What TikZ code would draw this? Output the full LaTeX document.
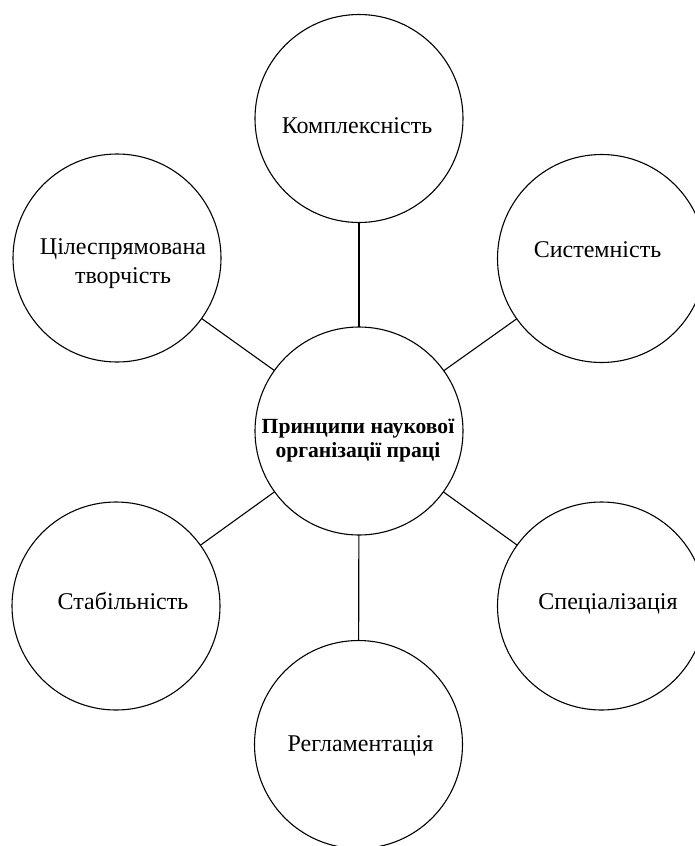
\documentclass[tikz,border=0pt]{standalone}
\usepackage{fontspec}
\setmainfont{Liberation Serif}
\begin{document}
\begin{tikzpicture}[x=1pt,y=-1pt,
  circ/.style={draw,circle,minimum size=208pt,inner sep=0pt,outer sep=0pt,line width=1.1pt},
  lbl/.style={font=\fontsize{24}{29}\selectfont,inner sep=0pt,align=center},
  mainlbl/.style={font=\bfseries\fontsize{21.6}{24}\selectfont,inner sep=0pt,align=center},
  link/.style={line width=1.1pt}]
\useasboundingbox (0,0) rectangle (694,846);
\node[circ] (c) at (359,431) {};
\node[circ] (t) at (359,118.5) {};
\node[circ] (tl) at (117,258) {};
\node[circ] (tr) at (601.5,258.5) {};
\node[circ] (bl) at (116,606) {};
\node[circ] (br) at (601.5,606) {};
\node[circ] (b) at (358.5,744.5) {};
\foreach \s in {t,tl,tr,bl,br,b} \draw[link] (c) -- (\s);
\node[mainlbl] (cl) at (358,440.5) {Принципи наукової\\організації праці};
\node[lbl,anchor=base] (tlab) at (357,133) {Комплексність};
\node[lbl] (tllab) at (123,264) {Цілеспрямована\\творчість};
\node[lbl,anchor=base] (trlab) at (597.5,257) {Системність};
\node[lbl,anchor=base] (bllab) at (123,609) {Стабільність};
\node[lbl,anchor=base] (brlab) at (608,609) {Спеціалізація};
\node[lbl,anchor=base] (blab) at (360.5,751) {Регламентація};
\end{tikzpicture}
\end{document}
